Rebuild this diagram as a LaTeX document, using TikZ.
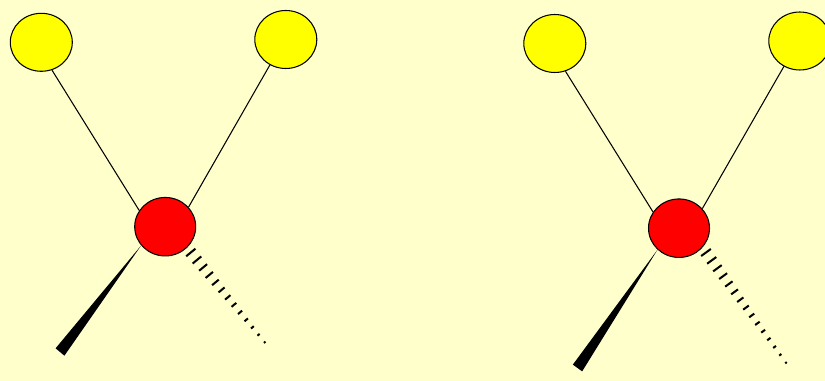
\documentclass[tikz,border=0pt]{standalone}
\usepackage{tikz}
\usetikzlibrary{shapes.geometric,calc}
\definecolor{paperC}{HTML}{FFFFCC}
\definecolor{subC}{HTML}{FFFF00}
\definecolor{coreC}{HTML}{FF0000}
% hashed bond: start, end, last index
\newcommand{\hashbond}[3]{%
  \coordinate (#1x) at ($(#1)!2!(#2)$);
  \foreach \i in {0,...,#3}{
    \pgfmathsetmacro{\hw}{0.12-0.10*\i/#3}
    \draw[hash] ($(#1)!\i/#3!(#2)!\hw cm!90:(#1x)$) -- ($(#1)!\i/#3!(#2)!\hw cm!-90:(#1x)$);
  }}
\tikzset{
  sub/.style={ellipse, draw, fill=subC, line width=0.6pt, inner sep=0pt,
              minimum width=1.24cm, minimum height=1.16cm},
  core/.style={ellipse, draw, fill=coreC, line width=0.6pt, inner sep=0pt,
               minimum width=1.22cm, minimum height=1.17cm},
  bond/.style={line width=0.6pt},
  wedge/.style={fill=black},
  hash/.style={line width=1.15pt},
}

\begin{document}
\begin{tikzpicture}[x=0.02cm, y=-0.02cm]
\fill[paperC] (0,0) rectangle (825,381);
\useasboundingbox (0,0) rectangle (825,381);

% left molecule
\node[sub] (yA) at (41.3,42.3) {};
\node[sub] (yB) at (285.8,39.5) {};
\node[core] (rA) at (165.2,226.7) {};
\draw[bond] (yA.-69) -- (rA.148);
\draw[bond] (yB.238) -- (rA.40);
\coordinate (wA) at (60,352);
\fill[wedge] (rA.218) -- ($(wA)!0.115cm!90:(rA)$) -- ($(wA)!0.115cm!-90:(rA)$) -- cycle;
\coordinate (hA) at (190.8,252.5);
\coordinate (hB) at (264.7,342.3);
\hashbond{hA}{hB}{12}

% right molecule
\node[sub] (yC) at (554.8,43.5) {};
\node[sub] (yD) at (799.8,41) {};
\node[core] (rB) at (679,228.2) {};
\draw[bond] (yC.-69) -- (rB.148);
\draw[bond] (yD.238) -- (rB.40);
\coordinate (wB) at (577.5,368);
\fill[wedge] (rB.225) -- ($(wB)!0.115cm!90:(rB)$) -- ($(wB)!0.115cm!-90:(rB)$) -- cycle;
\coordinate (hC) at (706,252.5);
\coordinate (hD) at (786,362.7);
\hashbond{hC}{hD}{14}
\end{tikzpicture}
\end{document}
